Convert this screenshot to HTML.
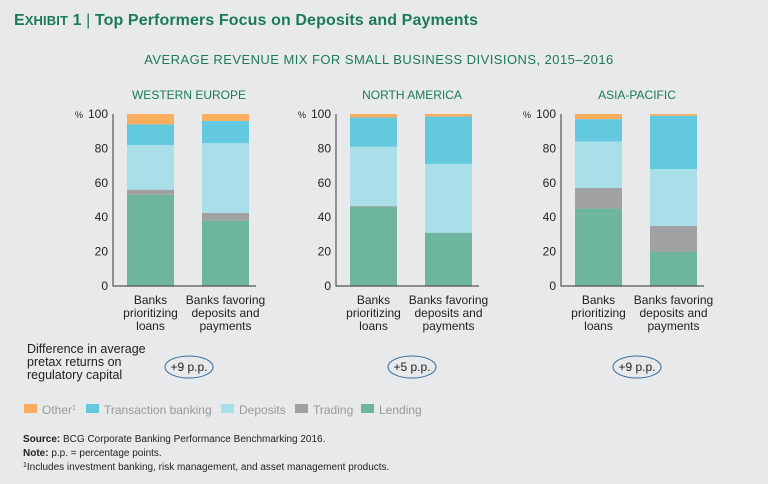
<!DOCTYPE html>
<html><head><meta charset="utf-8"><style>
body{margin:0;background:#e8e9eb;}
svg{display:block;font-family:"Liberation Sans",sans-serif;}
</style></head><body>
<svg id="c" width="768" height="484" viewBox="0 0 768 484">
<rect width="768" height="484" fill="#e8e9eb"/>
<text x="14" y="25" font-size="16" font-weight="bold" fill="#1b7a5a" textLength="464"><tspan font-size="16">E</tspan><tspan font-size="13">XHIBIT</tspan> 1 <tspan font-weight="normal">|</tspan> Top Performers Focus on Deposits and Payments</text>
<text x="379" y="64" font-size="13" fill="#1b7a5a" text-anchor="middle" letter-spacing="0.45">AVERAGE REVENUE MIX FOR SMALL BUSINESS DIVISIONS, 2015–2016</text>
<g id="panels"></g>
<text font-size="12.5" fill="#222"><tspan x="27" y="353">Difference in average</tspan><tspan x="27" y="366">pretax returns on</tspan><tspan x="27" y="379">regulatory capital</tspan></text>
<g id="legend"></g>
<text x="23" y="442" font-size="10" fill="#222"><tspan font-weight="bold">Source:</tspan> BCG Corporate Banking Performance Benchmarking 2016.</text>
<text x="23" y="456" font-size="10" fill="#222"><tspan font-weight="bold">Note:</tspan> p.p. = percentage points.</text>
<text x="23" y="470" font-size="10" fill="#222"><tspan font-size="7" dy="-3">1</tspan><tspan dy="3">Includes investment banking, risk management, and asset management products.</tspan></text>
</svg>
<script>
const regions = ["WESTERN EUROPE","NORTH AMERICA","ASIA-PACIFIC"];
const seriesNames = ["Lending","Trading","Deposits","Transaction banking","Other"];
const lending = [[53,38],[46,31],[45,20]];
const trading = [[3,4.5],[0.5,0],[12,15]];
const deposits = [[26,40.5],[34.5,40],[27,33]];
const transaction = [[12,13],[17,27.5],[13,31]];
const other = [[6,4],[2,1.5],[3,1]];
const yTicks = [0,20,40,60,80,100];
const diffs = ["+9 p.p.","+5 p.p.","+9 p.p."];
const colors = ["#6db59d","#a0a1a3","#a8dfe9","#62c9df","#f8ae5c"];
const NS="http://www.w3.org/2000/svg";
function mk(t,a,p){const e=document.createElementNS(NS,t);for(const k in a)e.setAttribute(k,a[k]);p.appendChild(e);return e;}
const y0=286,y1=114;
function yS(v){return y0-(y0-y1)*v/100;}
const axX=[113,336,561];
const panels=document.getElementById('panels');
const series=[lending,trading,deposits,transaction,other];
const catLabels=[["Banks","prioritizing","loans"],["Banks favoring","deposits and","payments"]];
regions.forEach((r,i)=>{
  const g=mk('g',{},panels);
  
  
  const ax=axX[i];
  const t=mk('text',{x:ax+76,y:99,'font-size':12,fill:'#1b7a5a','text-anchor':'middle'},g);t.textContent=r;
  
  yTicks.forEach(v=>{const tt=mk('text',{x:ax-5,y:yS(v)+4,'font-size':12,fill:'#222','text-anchor':'end'},g);tt.textContent=v;
    });
  const pc=mk('text',{x:ax-30,y:yS(100)+4,'font-size':9,fill:'#222','text-anchor':'end'},g);pc.textContent='%';
  
  for(let b=0;b<2;b++){
    const bx=ax+14+b*75;let cum=0;
    series.forEach((s,k)=>{const v=s[i][b];if(v<=0){return;}
      const rr=mk('rect',{x:bx,y:yS(cum+v),width:47,height:yS(cum)-yS(cum+v),fill:colors[k]},g);
      
      cum+=v;});
    const lt=mk('text',{'font-size':12,fill:'#222','text-anchor':'middle'},g);
    
    catLabels[b].forEach((s,j)=>{const ts=mk('tspan',{x:bx+23.5,y:304+j*13},lt);ts.textContent=s;});
  }
  const a=mk('path',{d:`M${ax} ${y1} V${y0} H${ax+143}`,stroke:'#555',fill:'none','stroke-width':1.2},g);
  
  const cx=ax+76;
  const el=mk('ellipse',{cx:cx,cy:367,rx:24,ry:11,fill:'none',stroke:'#3a6f9e','stroke-width':1},g);
  
  const dt=mk('text',{x:cx,y:371,'font-size':12,fill:'#222','text-anchor':'middle'},g);dt.textContent=diffs[i];
  
});
const leg=document.getElementById('legend');
const legItems=[["Other",4,24],["Transaction banking",3,86],["Deposits",2,221],["Trading",1,295],["Lending",0,361]];
legItems.forEach(([n,k,x])=>{
  const g=mk('g',{},leg);
  
  
  mk('rect',{x:x,y:404,width:13,height:9,fill:colors[k]},g);
  const t=mk('text',{x:x+18,y:414,'font-size':12,fill:'#999'},g);t.textContent=n;
  if(k===4){const s=mk('tspan',{'font-size':7,dy:-4},t);s.textContent='1';}
});
</script>
</body></html>
